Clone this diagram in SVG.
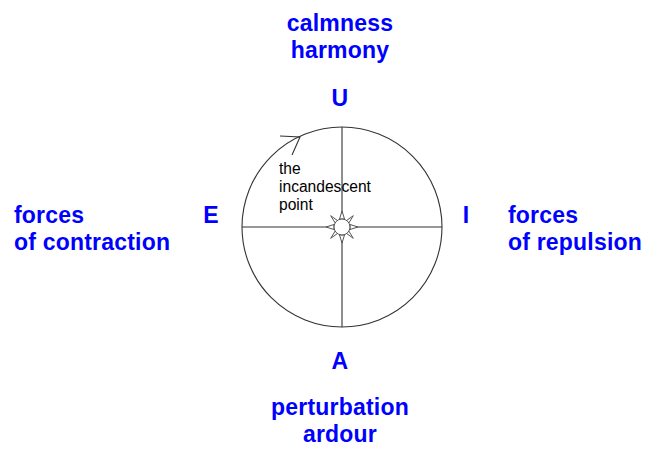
<svg xmlns="http://www.w3.org/2000/svg" width="659" height="455" viewBox="0 0 659 455">
<style>
.lbl{font-family:"Liberation Sans",Arial,sans-serif;font-weight:bold;font-size:23px;letter-spacing:0.2px;fill:#0000ff}
.mid{text-anchor:middle}
.sm{font-family:"Liberation Sans",Arial,sans-serif;font-size:15.6px;fill:#000}
.ln{stroke:#333;stroke-width:1.1;fill:none}
</style>
<rect width="659" height="455" fill="#fff"/>
<g id="circle-node">
<circle cx="342" cy="227" r="100" class="ln"/>
</g>
<g id="connectors">
<line x1="342" y1="127" x2="342" y2="327" class="ln"/>
<line x1="242" y1="227" x2="442" y2="227" class="ln"/>
<polyline points="280,136 300,137 292,155" class="ln"/>
</g>
<g id="sun">
<g fill="#fff" stroke="#555" stroke-width="1">
<polygon points="342,211 339.5,219 344.5,219"/>
<polygon points="342,243 339.5,235 344.5,235"/>
<polygon points="326,227 334,224.5 334,229.5"/>
<polygon points="358,227 350,224.5 350,229.5"/>
<polygon points="330.7,215.7 335.2,223 337.6,220.6" />
<polygon points="353.3,215.7 346.4,220.6 348.8,223"/>
<polygon points="330.7,238.3 337.6,233.4 335.2,231"/>
<polygon points="353.3,238.3 348.8,231 346.4,233.4"/>
<circle cx="342" cy="227" r="8"/>
</g>
</g>
<g id="incandescent-label">
<text class="sm" x="279" y="174">the</text>
<text class="sm" x="279" y="192">incandescent</text>
<text class="sm" x="279" y="210">point</text>
</g>
<g id="top">
<text class="lbl mid" x="340" y="31">calmness</text>
<text class="lbl mid" x="340" y="58">harmony</text>
<text class="lbl mid" x="340" y="106">U</text>
</g>
<g id="bottom">
<text class="lbl mid" x="340" y="369">A</text>
<text class="lbl mid" x="340" y="415">perturbation</text>
<text class="lbl mid" x="340" y="442">ardour</text>
</g>
<g id="left">
<text class="lbl" x="14" y="223">forces</text>
<text class="lbl" x="14" y="250">of contraction</text>
<text class="lbl mid" x="211" y="223">E</text>
</g>
<g id="right">
<text class="lbl mid" x="466" y="223">I</text>
<text class="lbl" x="508" y="223">forces</text>
<text class="lbl" x="508" y="250">of repulsion</text>
</g>
</svg>
